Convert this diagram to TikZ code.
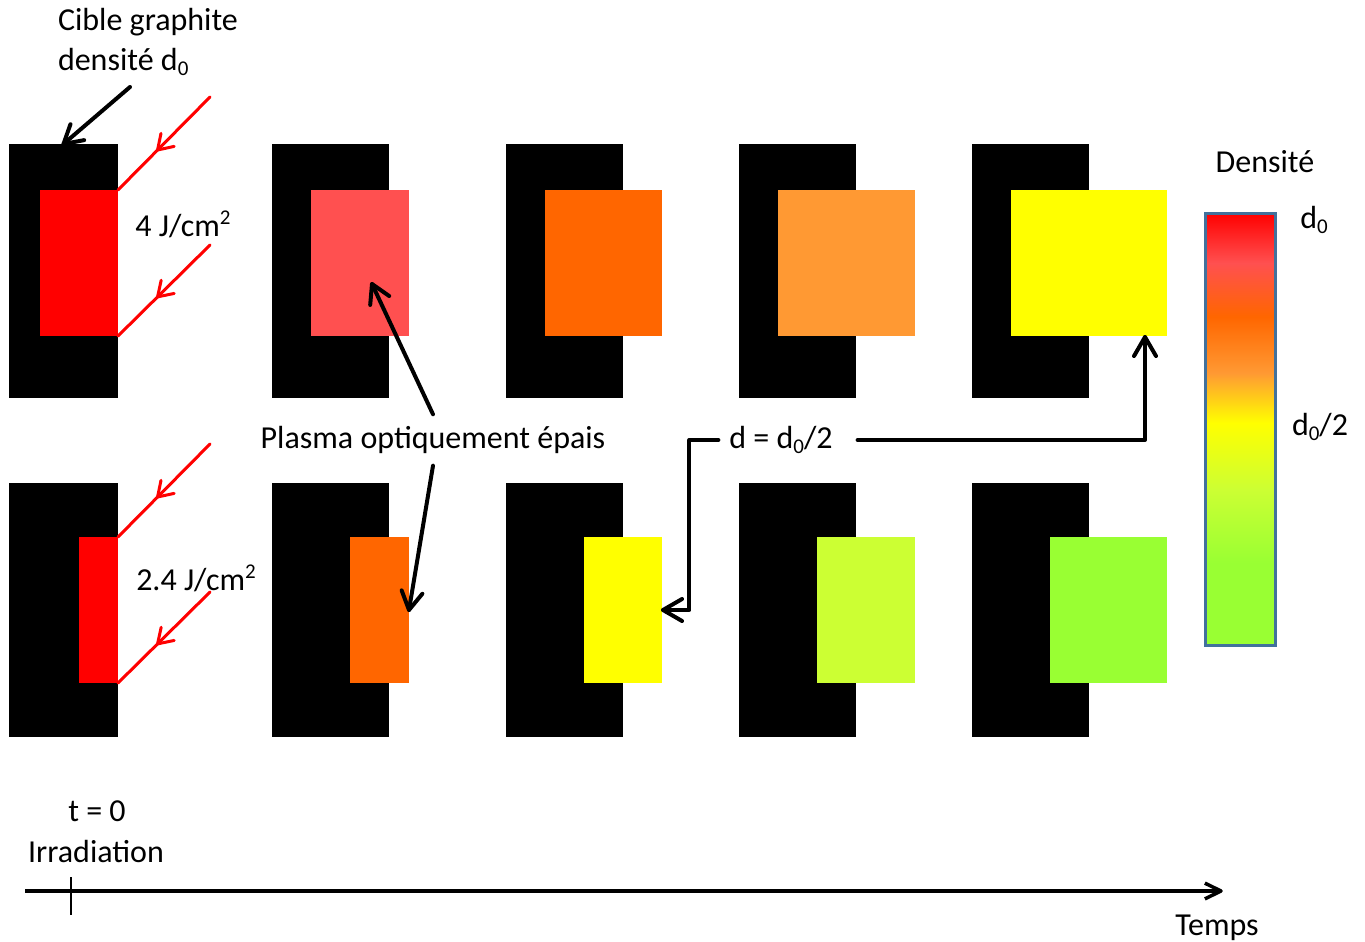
\documentclass[tikz,border=0pt]{standalone}
\usepackage{fontspec}
\setmainfont{Carlito}
\usetikzlibrary{calc}
\definecolor{cRed}{HTML}{FF0000}
\definecolor{cSalmon}{HTML}{FF5050}
\definecolor{cOrange}{HTML}{FF6600}
\definecolor{cLOrange}{HTML}{FF9933}
\definecolor{cYellow}{HTML}{FFFF00}
\definecolor{cYGreen}{HTML}{CCFF33}
\definecolor{cGreen}{HTML}{99FF33}
\definecolor{barBorder}{HTML}{41719C}
\pgfdeclareverticalshading{densbar}{100bp}{color(0bp)=(cGreen); color(25bp)=(cGreen); color(34.5bp)=(cGreen); color(43bp)=(cYGreen); color(50.7bp)=(cYellow); color(56.5bp)=(cLOrange); color(63bp)=(cOrange); color(69.2bp)=(cSalmon); color(75bp)=(cRed); color(100bp)=(cRed)}
\newcommand\dsub[1]{\raisebox{-0.3ex}{\fontsize{21}{21}\selectfont #1}}
\newcommand\dsup[1]{\raisebox{0.8ex}{\fontsize{21}{21}\selectfont #1}}
% open barb head: tip #1, coming from #2, style #3, length #4, half angle #5
\newcommand\barbhead[5]{\draw[#3] ($(#1)!#4!#5:(#2)$) -- (#1) -- ($(#1)!#4!-#5:(#2)$);}
\begin{document}
\begin{tikzpicture}[x=1pt,y=-1pt,
  target/.style={fill=black, draw=none, inner sep=0, outer sep=0, minimum height=254pt, minimum width=117pt},
  plasma/.style={fill=#1, draw=none, inner sep=0, outer sep=0, minimum height=146pt},
  lbl/.style={inner sep=0, outer sep=0, font=\fontsize{32}{40}\selectfont, text=black},
  laserline/.style={draw=cRed, line width=3pt, line cap=round, line join=round},
  blk/.style={draw=black, line width=4pt, line cap=round, line join=round},
  axisline/.style={draw=black, line width=3.5pt, line join=round},
  bar/.style={draw=barBorder, line width=3pt, shading=densbar, shading angle=0, inner sep=0, outer sep=0, minimum width=70pt, minimum height=432pt}
]
\useasboundingbox (0,0) rectangle (1365,942);

% targets row 1
\node[target, minimum width=109pt] (b11) at (63.5,271) {};
\node[target] (b12) at (330.5,271) {};
\node[target] (b13) at (564.5,271) {};
\node[target] (b14) at (797.5,271) {};
\node[target] (b15) at (1030.5,271) {};
% targets row 2
\node[target, minimum width=109pt] (b21) at (63.5,610) {};
\node[target] (b22) at (330.5,610) {};
\node[target] (b23) at (564.5,610) {};
\node[target] (b24) at (797.5,610) {};
\node[target] (b25) at (1030.5,610) {};

% plasma row 1
\node[plasma=cRed, minimum width=78pt] (c11) at (79,263) {};
\node[plasma=cSalmon, minimum width=98pt] (c12) at (360,263) {};
\node[plasma=cOrange, minimum width=117pt] (c13) at (603.5,263) {};
\node[plasma=cLOrange, minimum width=137pt] (c14) at (846.5,263) {};
\node[plasma=cYellow, minimum width=156pt] (c15) at (1089,263) {};
% plasma row 2
\node[plasma=cRed, minimum width=39pt] (c21) at (98.5,610) {};
\node[plasma=cOrange, minimum width=59pt] (c22) at (379.5,610) {};
\node[plasma=cYellow, minimum width=78pt] (c23) at (623,610) {};
\node[plasma=cYGreen, minimum width=98pt] (c24) at (866,610) {};
\node[plasma=cGreen, minimum width=117pt] (c25) at (1108.5,610) {};

% lasers
\coordinate (l11) at (210,97);
\coordinate (l12) at (210,245);
\coordinate (l21) at (210,444);
\coordinate (l22) at (210,592);
\draw[laserline] (l11) -- (c11.north east);
\draw[laserline] (l12) -- (c11.south east);
\draw[laserline] (l21) -- (c21.north east);
\draw[laserline] (l22) -- (c21.south east);
\coordinate (m11) at ($(l11)!0.57!(c11.north east)$);
\coordinate (m12) at ($(l12)!0.57!(c11.south east)$);
\coordinate (m21) at ($(l21)!0.57!(c21.north east)$);
\coordinate (m22) at ($(l22)!0.57!(c21.south east)$);
\barbhead{m11}{l11}{laserline}{17pt}{33}
\barbhead{m12}{l12}{laserline}{17pt}{33}
\barbhead{m21}{l21}{laserline}{17pt}{33}
\barbhead{m22}{l22}{laserline}{17pt}{33}

% labels
\node[lbl, anchor=west, align=left] (cible) at (58,42) {Cible graphite\\densité d\dsub{0}};
\coordinate (cibletail) at (130,87);
\draw[blk] (cibletail) -- (b11.north);
\barbhead{b11.north}{cibletail}{blk}{21pt}{30}

\node[lbl] (f1) at (183,224) {4 J/cm\dsup{2}};
\node[lbl] (f2) at (196,578) {2.4 J/cm\dsup{2}};

\node[lbl, inner ysep=12pt] (plasmalbl) at (433,440) {Plasma optiquement épais};
\coordinate (ptip1) at ($(c12.center)+(12,21)$);
\draw[blk] (plasmalbl.north) -- (ptip1);
\barbhead{ptip1}{plasmalbl.north}{blk}{21pt}{30}
\draw[blk] (plasmalbl.south) -- (c22.east);
\barbhead{c22.east}{plasmalbl.south}{blk}{21pt}{30}

\node[lbl, inner xsep=11pt] (dlab) at (781,440) {d = d\dsub{0}/2};
\coordinate (dtip1) at ([xshift=1pt]c23.east);
\coordinate (dtip2) at ([xshift=56pt,yshift=-1pt]c15.south);
\draw[blk] (dlab.west) -- ++(-29,0) |- (dtip1);
\barbhead{dtip1}{[xshift=30pt]dtip1}{blk}{22pt}{30}
\draw[blk] ([xshift=14pt]dlab.east) -| (dtip2);
\barbhead{dtip2}{[yshift=-30pt]dtip2}{blk}{22pt}{30}

% density bar
\node[bar] (bar) at (1240,429) {};
\node[lbl] (dens) at (1265,162) {Densité};
\node[lbl] (dtop) at (1314,220) {d\dsub{0}};
\node[lbl] (dhalf) at (1320,427) {d\dsub{0}/2};

% time axis
\coordinate (tstart) at (25,891);
\coordinate (tend) at (1221,891);
\draw[axisline] (tstart) -- (tend);
\barbhead{tend}{tstart}{axisline}{18pt}{26}
\coordinate (ticktop) at (71,877);
\coordinate (tickbot) at (71,915);
\draw[line width=2.5pt] (ticktop) -- (tickbot);
\node[lbl] (t0) at (97,811) {t = 0};
\node[lbl] (irr) at (96,851) {Irradiation};
\node[lbl] (temps) at (1217,928) {Temps};
\end{tikzpicture}
\end{document}
